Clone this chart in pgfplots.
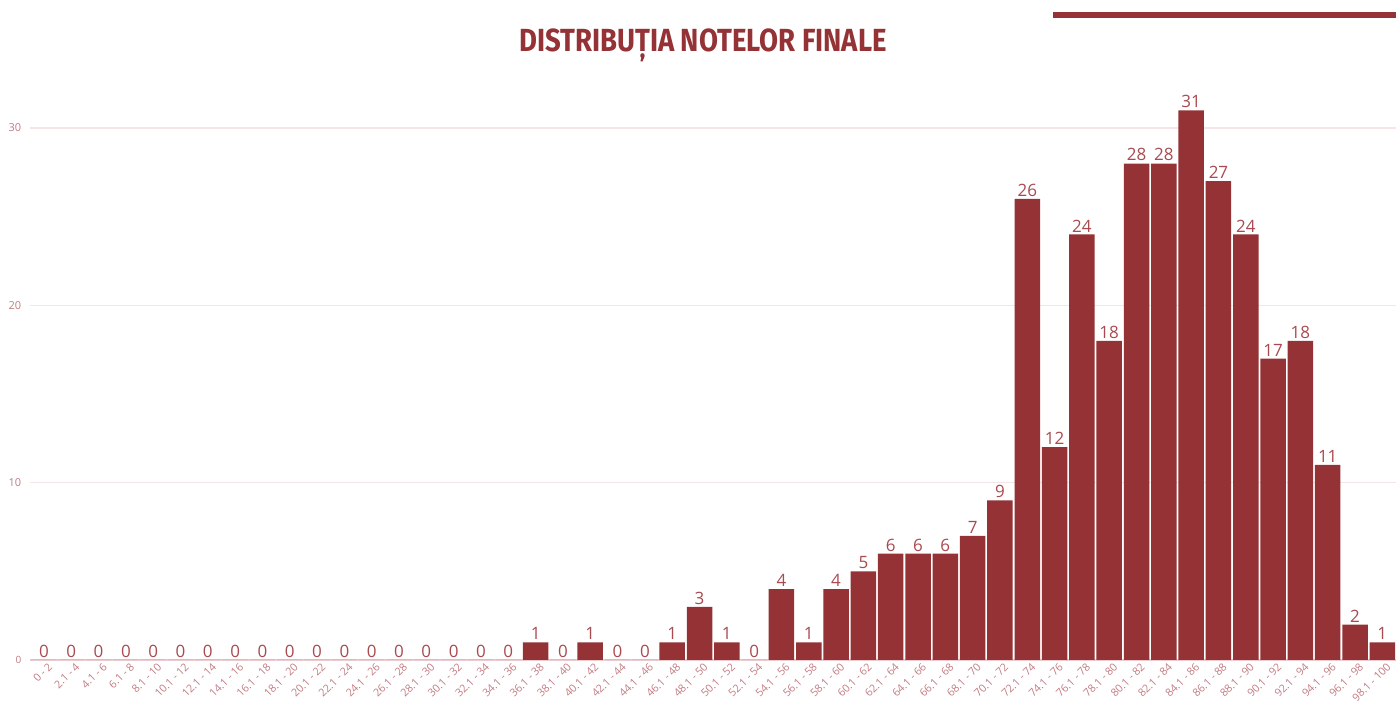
\documentclass[border=0pt]{standalone}
\usepackage{pgfplots}
\pgfplotsset{compat=1.18}
\usepackage{fontspec}
\setmainfont{Open Sans}
\newfontfamily\titlefont{Fira Sans}
\definecolor{barc}{HTML}{943236}
\definecolor{lblc}{HTML}{A84A50}
\definecolor{tickc}{HTML}{C27B82}
\definecolor{gridc}{HTML}{F6E4E6}
\definecolor{basec}{HTML}{ECCBCE}
\pgfplotstableread{
x y
0 0
1 0
2 0
3 0
4 0
5 0
6 0
7 0
8 0
9 0
10 0
11 0
12 0
13 0
14 0
15 0
16 0
17 0
18 1
19 0
20 1
21 0
22 0
23 1
24 3
25 1
26 0
27 4
28 1
29 4
30 5
31 6
32 6
33 6
34 7
35 9
36 26
37 12
38 24
39 18
40 28
41 28
42 31
43 27
44 24
45 17
46 18
47 11
48 2
49 1
}\datatable
\begin{document}
\begin{tikzpicture}[x=1pt,y=1pt]
\useasboundingbox (0,0) rectangle (698,353);
\fill[barc] (526.5,344) rectangle (698,347);
\node[font=\titlefont\bfseries\fontsize{16}{18}\selectfont, text=barc] at (351.5,330.5) {\scalebox{0.86}[1]{DISTRIBUȚIA NOTELOR FINALE}};
\begin{axis}[
  at={(15.15pt,23pt)}, anchor=south west,
  scale only axis,
  width=682.85pt, height=310.3pt,
  xmin=-0.5, xmax=49.5, ymin=0, ymax=35,
  axis line style={draw=none},
  tick style={draw=none},
  /pgf/number format/assume math mode=true,
  ytick={10,20,30},
  extra y ticks={0},
  extra y tick style={grid=none, yticklabel style={font=\fontsize{5}{6}\selectfont}},
  ymajorgrids, grid style={gridc, line width=0.6pt},
  yticklabel style={text=tickc, font=\fontsize{5.5}{6}\selectfont, xshift=-1pt},
  xtick=data,
  xticklabels={0 - 2, 2.1 - 4, 4.1 - 6, 6.1 - 8, 8.1 - 10, 10.1 - 12, 12.1 - 14, 14.1 - 16, 16.1 - 18, 18.1 - 20, 20.1 - 22, 22.1 - 24, 24.1 - 26, 26.1 - 28, 28.1 - 30, 30.1 - 32, 32.1 - 34, 34.1 - 36, 36.1 - 38, 38.1 - 40, 40.1 - 42, 42.1 - 44, 44.1 - 46, 46.1 - 48, 48.1 - 50, 50.1 - 52, 52.1 - 54, 54.1 - 56, 56.1 - 58, 58.1 - 60, 60.1 - 62, 62.1 - 64, 64.1 - 66, 66.1 - 68, 68.1 - 70, 70.1 - 72, 72.1 - 74, 74.1 - 76, 76.1 - 78, 78.1 - 80, 80.1 - 82, 82.1 - 84, 84.1 - 86, 86.1 - 88, 88.1 - 90, 90.1 - 92, 92.1 - 94, 94.1 - 96, 96.1 - 98, 98.1 - 100},
  xticklabel style={rotate=45, anchor=north east, text=tickc, font=\fontsize{5.4}{6}\selectfont, inner sep=0.8pt, xshift=1.5pt, yshift=-1pt},
  nodes near coords,
  nodes near coords style={text=lblc, font=\fontsize{8.5}{9}\selectfont, inner sep=1pt},
  point meta=explicit,
  clip=false,
]
\draw[basec, line width=1pt] (axis cs:-0.5,0) -- (axis cs:49.5,0);
\addplot[ybar, bar width=12.75pt, fill=barc, draw=none] table[x=x, y=y, meta=y] {\datatable};
\end{axis}
\end{tikzpicture}
\end{document}
